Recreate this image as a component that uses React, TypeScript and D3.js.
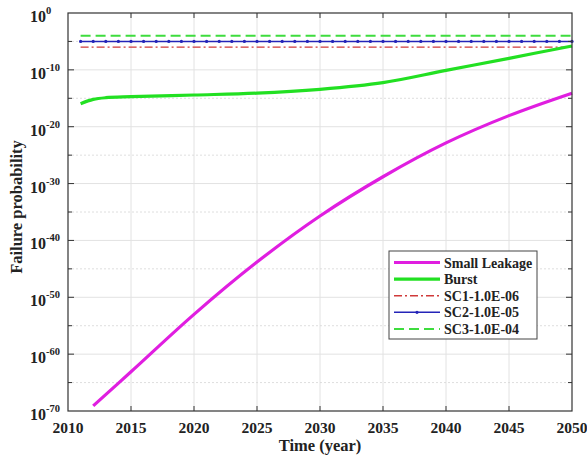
import React, { useRef, useEffect } from 'react';
import * as d3 from 'd3';

// Burst curve (log10 of failure probability)
const burstYears = [2011, 2012, 2013, 2015, 2020, 2025, 2030, 2035, 2040, 2045, 2050];
const burstLog = [-15.95, -15.2, -14.9, -14.72, -14.42, -14.1, -13.42, -12.25, -10.1, -7.97, -5.8];

// Small leakage curve
const leakYears = [2012, 2015, 2020, 2025, 2030, 2035, 2040, 2045, 2050];
const leakLog = [-69.1, -63.1, -53.0, -43.8, -35.7, -28.8, -22.85, -18.05, -14.1];

// Constant safety criteria
const scNames = ['SC1-1.0E-06', 'SC2-1.0E-05', 'SC3-1.0E-04'];
const scValues = [1e-6, 1e-5, 1e-4];
const scStart = 2011;
const scEnd = 2050;

const xTicks = [2010, 2015, 2020, 2025, 2030, 2035, 2040, 2045, 2050];
const yExps = [0, -10, -20, -30, -40, -50, -60, -70];
const yMinorExps = [-5, -15, -25, -35, -45, -55, -65];

const FONT = '"Liberation Serif", "Times New Roman", serif';

const Chart = () => {
  const svgRef = useRef<SVGSVGElement>(null);

  useEffect(() => {
    const W = 587;
    const H = 457;
    const margin = { top: 13, right: 15, bottom: 46, left: 68 };
    const width = W - margin.left - margin.right;
    const height = H - margin.top - margin.bottom;

    const root = d3.select(svgRef.current);
    root.selectAll('*').remove();
    root.attr('width', W).attr('height', H).style('background', '#fff');

    const svg = root.append('g').attr('transform', `translate(${margin.left},${margin.top})`);

    const x = d3.scaleLinear().domain([2010, 2050]).range([0, width]);
    const y = d3.scaleLog().domain([1e-70, 1]).range([height, 0]);

    // grid
    svg
      .selectAll('.vgrid')
      .data(xTicks.slice(1, -1))
      .join('line')
      .attr('x1', (d) => x(d))
      .attr('x2', (d) => x(d))
      .attr('y1', 0)
      .attr('y2', height)
      .attr('stroke', '#e2e2e2')
      .attr('stroke-width', 1);

    svg
      .selectAll('.hgrid')
      .data(yExps.slice(1, -1))
      .join('line')
      .attr('x1', 0)
      .attr('x2', width)
      .attr('y1', (d) => y(Math.pow(10, d)))
      .attr('y2', (d) => y(Math.pow(10, d)))
      .attr('stroke', '#e2e2e2')
      .attr('stroke-width', 1);

    svg
      .selectAll('.hminor')
      .data(yMinorExps)
      .join('line')
      .attr('x1', 0)
      .attr('x2', width)
      .attr('y1', (d) => y(Math.pow(10, d)))
      .attr('y2', (d) => y(Math.pow(10, d)))
      .attr('stroke', '#d6d6d6')
      .attr('stroke-width', 0.8)
      .attr('stroke-dasharray', '2 2');

    // safety criteria lines
    const scYears = d3.range(scStart, scEnd + 1);
    const line = d3
      .line<number[]>()
      .x((d) => x(d[0]))
      .y((d) => y(d[1]));

    const scStyle = [
      { color: '#d03a3a', dash: '8 3 2 3', width: 1.4 },
      { color: '#2424b8', dash: null, width: 1.6 },
      { color: '#3edc3e', dash: '10 5', width: 2 },
    ];

    scValues.forEach((v, i) => {
      const pts = scYears.map((yr) => [yr, v]);
      svg
        .append('path')
        .datum(pts)
        .attr('fill', 'none')
        .attr('stroke', scStyle[i].color)
        .attr('stroke-width', scStyle[i].width)
        .attr('stroke-dasharray', scStyle[i].dash)
        .attr('d', line);
      if (i === 1) {
        svg
          .selectAll('.sc2dot')
          .data(pts)
          .join('circle')
          .attr('cx', (d) => x(d[0]))
          .attr('cy', (d) => y(d[1]))
          .attr('r', 1.6)
          .attr('fill', scStyle[i].color);
      }
    });

    const curve = d3
      .line<number[]>()
      .x((d) => x(d[0]))
      .y((d) => y(Math.pow(10, d[1])))
      .curve(d3.curveCatmullRom.alpha(0.5));

    // Burst
    svg
      .append('path')
      .datum(burstYears.map((yr, i) => [yr, burstLog[i]]))
      .attr('fill', 'none')
      .attr('stroke', '#22e022')
      .attr('stroke-width', 3.2)
      .attr('d', curve);

    // Small Leakage
    svg
      .append('path')
      .datum(leakYears.map((yr, i) => [yr, leakLog[i]]))
      .attr('fill', 'none')
      .attr('stroke', '#e01ee0')
      .attr('stroke-width', 3.2)
      .attr('d', curve);

    // box
    svg
      .append('rect')
      .attr('width', width)
      .attr('height', height)
      .attr('fill', 'none')
      .attr('stroke', '#333')
      .attr('stroke-width', 1.2);

    // ticks (inside, all four sides)
    const tk = svg.append('g').attr('stroke', '#333').attr('stroke-width', 1);
    xTicks.slice(1, -1).forEach((t) => {
      tk.append('line').attr('x1', x(t)).attr('x2', x(t)).attr('y1', height).attr('y2', height - 5);
      tk.append('line').attr('x1', x(t)).attr('x2', x(t)).attr('y1', 0).attr('y2', 5);
    });
    yExps.slice(1, -1).forEach((e) => {
      const yy = y(Math.pow(10, e));
      tk.append('line').attr('x1', 0).attr('x2', 6).attr('y1', yy).attr('y2', yy);
      tk.append('line').attr('x1', width).attr('x2', width - 6).attr('y1', yy).attr('y2', yy);
    });
    yMinorExps.forEach((e) => {
      const yy = y(Math.pow(10, e));
      tk.append('line').attr('x1', 0).attr('x2', 4).attr('y1', yy).attr('y2', yy);
      tk.append('line').attr('x1', width).attr('x2', width - 4).attr('y1', yy).attr('y2', yy);
    });

    // x tick labels
    svg
      .selectAll('.xlab')
      .data(xTicks)
      .join('text')
      .attr('x', (d) => x(d))
      .attr('y', height + 22)
      .attr('text-anchor', 'middle')
      .attr('font-family', FONT)
      .attr('font-weight', 'bold')
      .attr('font-size', 15.5)
      .attr('fill', '#222')
      .text((d) => d);

    // y tick labels
    yExps.forEach((e) => {
      const t = svg
        .append('text')
        .attr('x', -38)
        .attr('y', y(Math.pow(10, e)) + 9)
        .attr('font-family', FONT)
        .attr('font-weight', 'bold')
        .attr('font-size', 16)
        .attr('fill', '#222');
      t.append('tspan').text('10');
      t.append('tspan').attr('dy', -8).attr('font-size', 10.5).text(e);
    });

    // axis titles
    svg
      .append('text')
      .attr('x', width / 2)
      .attr('y', height + 40)
      .attr('text-anchor', 'middle')
      .attr('font-family', FONT)
      .attr('font-weight', 'bold')
      .attr('font-size', 16.5)
      .attr('fill', '#222')
      .text('Time (year)');

    svg
      .append('text')
      .attr('transform', `translate(${-46},${194}) rotate(-90)`)
      .attr('text-anchor', 'middle')
      .attr('font-family', FONT)
      .attr('font-weight', 'bold')
      .attr('font-size', 16.5)
      .attr('fill', '#222')
      .text('Failure probability');

    // legend
    const lg = root.append('g').attr('transform', 'translate(389,251)');
    lg.append('rect')
      .attr('width', 148)
      .attr('height', 88)
      .attr('fill', '#fff')
      .attr('stroke', '#444')
      .attr('stroke-width', 1);

    const legendItems = [
      { name: 'Small Leakage', color: '#e01ee0', dash: null, width: 3.2, dot: false },
      { name: 'Burst', color: '#22e022', dash: null, width: 3.2, dot: false },
      ...scNames.map((n, i) => ({
        name: n,
        color: scStyle[i].color,
        dash: scStyle[i].dash,
        width: scStyle[i].width,
        dot: i === 1,
      })),
    ];

    legendItems.forEach((it, i) => {
      const cy = 11.5 + i * 16.6;
      lg.append('line')
        .attr('x1', 5)
        .attr('x2', 51)
        .attr('y1', cy)
        .attr('y2', cy)
        .attr('stroke', it.color)
        .attr('stroke-width', it.width)
        .attr('stroke-dasharray', it.dash);
      if (it.dot) {
        lg.append('circle').attr('cx', 28).attr('cy', cy).attr('r', 1.6).attr('fill', it.color);
      }
      lg.append('text')
        .attr('x', 55)
        .attr('y', cy + 5)
        .attr('font-family', FONT)
        .attr('font-weight', 'bold')
        .attr('font-size', 14)
        .attr('fill', '#222')
        .text(it.name);
    });
  }, []);

  return <svg ref={svgRef} style={{ position: 'absolute', left: 0, top: 0 }}></svg>;
};

export default function App() {
  return <Chart />;
}
